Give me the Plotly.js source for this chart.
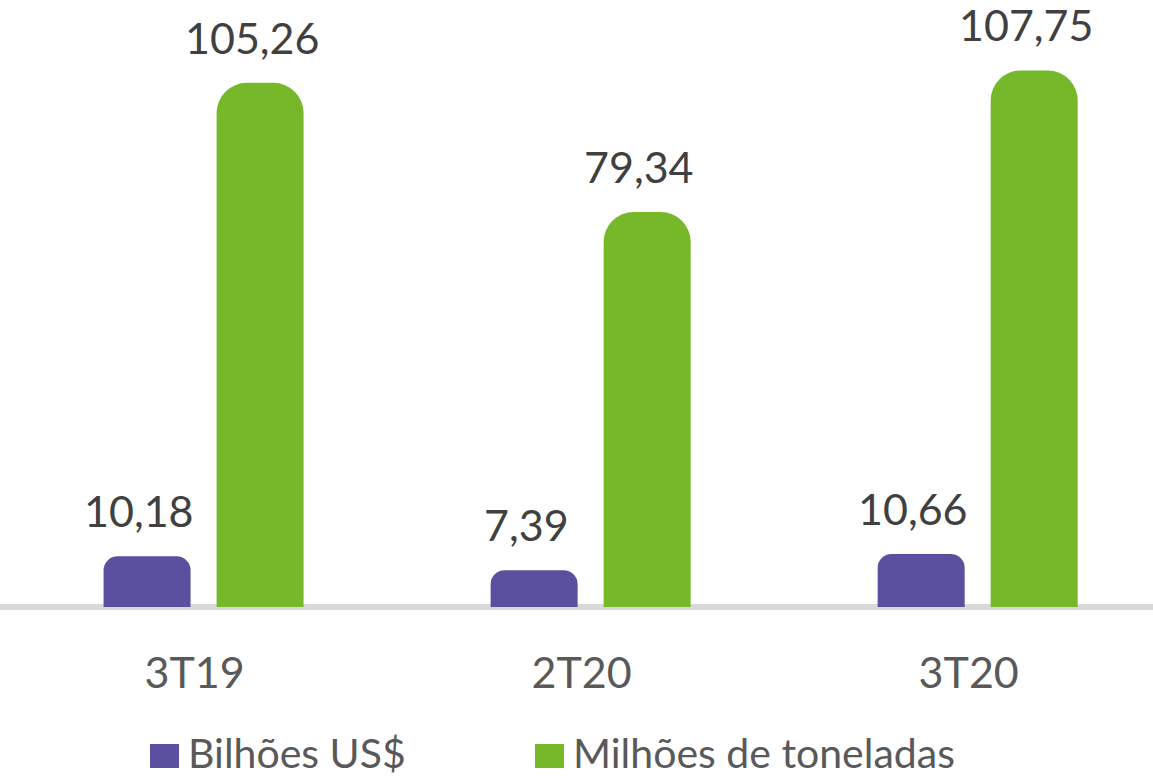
<!DOCTYPE html>
<html>
<head>
<meta charset="utf-8">
<script src="https://cdn.plot.ly/plotly-3.0.1.min.js"></script>
<style>html,body{margin:0;padding:0;background:#fff;}#chart{width:1153px;height:779px;}</style>
</head>
<body>
<div id="chart"></div>
<script>
var categories = ['3T19', '2T20', '3T20'];
var seriesNames = ['Bilhões US$', 'Milhões de toneladas'];
var seriesColors = ['#5B50A0', '#77B82A'];
var bilhoesUSD = [10.18, 7.39, 10.66];
var milhoesToneladas = [105.26, 79.34, 107.75];

var FONT = 'Lato, "Open Sans", sans-serif';
var W = 1153, H = 779, MB = 172;
var PH = H - MB;
var bargap = 0.416, bargroupgap = 0.23;
var fmt = function (v) { return v.toFixed(2).replace('.', ','); };

var traces = [
  {type: 'bar', name: seriesNames[0], x: categories, y: bilhoesUSD,
   marker: {color: seriesColors[0], cornerradius: 14}, hoverinfo: 'none', showlegend: false},
  {type: 'bar', name: seriesNames[1], x: categories, y: milhoesToneladas,
   marker: {color: seriesColors[1], cornerradius: 30}, hoverinfo: 'none', showlegend: false}
];

// value labels above each bar
var annotations = [];
var half = (1 - bargap) / 4;
[bilhoesUSD, milhoesToneladas].forEach(function (arr, j) {
  arr.forEach(function (v, i) {
    annotations.push({
      x: i + (j === 0 ? -half : half), y: v, xref: 'x', yref: 'y',
      text: fmt(v), showarrow: false, yanchor: 'bottom', yshift: 18, xshift: -8,
      font: {family: FONT, size: 43, color: '#404040'}
    });
  });
});

// legend (drawn as swatches + text to match the large swatches of the original)
var shapes = [];
var legendX = [150, 535];
var px = function (x) { return x / W; };
var py = function (y) { return (PH - y) / PH; };
seriesNames.forEach(function (name, j) {
  var x0 = legendX[j];
  shapes.push({type: 'rect', xref: 'paper', yref: 'paper',
    x0: px(x0), x1: px(x0 + 29), y0: py(768), y1: py(744),
    fillcolor: seriesColors[j], line: {width: 0}});
  annotations.push({xref: 'paper', yref: 'paper', x: px(x0 + 37), y: py(752),
    xanchor: 'left', yanchor: 'middle', showarrow: false, text: name, borderpad: 0,
    font: {family: FONT, size: 41, color: '#595959'}});
});

var layout = {
  width: W, height: H,
  margin: {l: 0, r: 0, t: 0, b: MB, autoexpand: false},
  paper_bgcolor: '#ffffff', plot_bgcolor: '#ffffff',
  barmode: 'group', bargap: bargap, bargroupgap: bargroupgap,
  xaxis: {type: 'category', range: [-0.526, 2.453], showgrid: false, zeroline: false,
          showline: false, ticks: '', ticklabelstandoff: 37, ticklabelshift: -9,
          tickfont: {family: FONT, size: 43, color: '#595959'}, fixedrange: true},
  yaxis: {range: [0, 121.9], showgrid: false, zeroline: true, zerolinecolor: '#D9D9D9',
          zerolinewidth: 6, showticklabels: false, ticks: '', fixedrange: true},
  showlegend: false,
  shapes: shapes,
  annotations: annotations
};

Plotly.newPlot('chart', traces, layout, {displayModeBar: false, staticPlot: true});
</script>
</body>
</html>
